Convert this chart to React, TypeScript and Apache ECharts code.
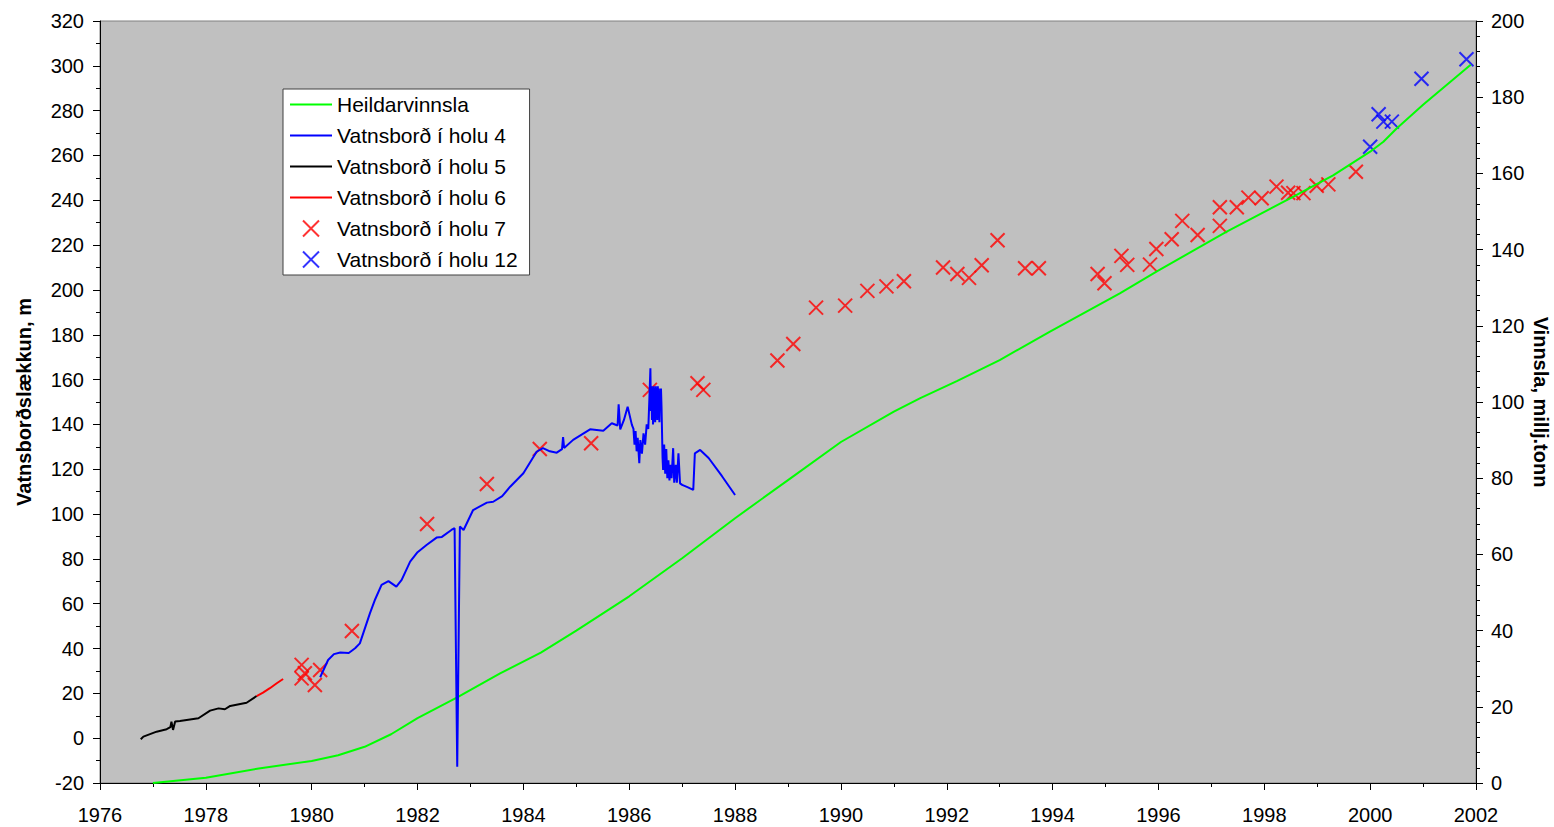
import React, { useEffect, useRef } from "react";
import * as echarts from "echarts";

// Heildarvinnsla (total production, millj. tonn) – right axis
const heildarvinnsla: [number, number][] = [
  [1977.0, 0], [1978.0, 1.4], [1979.0, 3.8], [1980.0, 5.8], [1980.5, 7.3],
  [1981.0, 9.5], [1981.5, 12.8], [1982.0, 17], [1982.75, 22.5], [1983.56, 28.8],
  [1984.33, 34.2], [1985.0, 40], [1986.0, 49], [1987.0, 59], [1988.0, 69.5],
  [1989.0, 79.5], [1990.0, 89.5], [1991.0, 97.5], [1991.5, 101], [1992.19, 105.5],
  [1993.0, 111], [1993.95, 118.5], [1995.27, 128.5], [1995.97, 134.3], [1997.29, 144.7],
  [1998.55, 153.9], [1999.3, 159.5], [2000.0, 165.7], [2000.25, 168.3],
  [2000.5, 171.8], [2001.0, 178], [2001.9, 188.5],
];

// Vatnsborð í holu 4
const holu4: [number, number][] = [
  [1980.16, 27.2], [1980.31, 34.9], [1980.42, 37.5], [1980.54, 38.2], [1980.7, 38],
  [1980.82, 40.1], [1980.91, 42.3], [1981.1, 55.7], [1981.2, 62], [1981.32, 68.4],
  [1981.45, 70.1], [1981.6, 67.6], [1981.7, 70.6], [1981.86, 78.8], [1982.0, 83],
  [1982.17, 86.2], [1982.36, 89.5], [1982.46, 89.8], [1982.64, 92.9], [1982.7, 93.7],
  [1982.75, -12.7], [1982.8, 94.4], [1982.87, 92.9], [1983.05, 101.8], [1983.31, 105.1],
  [1983.43, 105.5], [1983.6, 108], [1983.75, 112.2], [1984.0, 118.2], [1984.25, 127.8],
  [1984.37, 129.4], [1984.5, 128], [1984.63, 127.4], [1984.73, 129], [1984.75, 134.3],
  [1984.77, 129.5], [1984.94, 133.1], [1985.26, 137.8], [1985.51, 137.2], [1985.67, 140.5],
  [1985.78, 139.5], [1985.8, 149], [1985.83, 137.8], [1985.9, 142], [1985.97, 147.9],
  [1986.05, 139.8], [1986.08, 138], [1986.1, 131], [1986.12, 137], [1986.14, 128],
  [1986.16, 134], [1986.19, 122.7], [1986.21, 133], [1986.24, 127], [1986.27, 136],
  [1986.3, 131], [1986.33, 140], [1986.36, 138], [1986.38, 150.9], [1986.4, 165],
  [1986.41, 146], [1986.42, 157], [1986.43, 142], [1986.44, 156], [1986.45, 140],
  [1986.46, 157], [1986.47, 143], [1986.48, 156], [1986.49, 141], [1986.5, 157],
  [1986.51, 144], [1986.52, 156], [1986.53, 142], [1986.54, 157], [1986.55, 145],
  [1986.56, 156], [1986.57, 141], [1986.58, 155], [1986.59, 146], [1986.6, 156],
  [1986.61, 147.9], [1986.63, 125], [1986.64, 119.7], [1986.66, 131], [1986.68, 118],
  [1986.7, 129], [1986.72, 116], [1986.74, 124], [1986.76, 115], [1986.78, 122],
  [1986.8, 116], [1986.83, 129.4], [1986.85, 114], [1986.88, 122], [1986.9, 114],
  [1986.93, 127.1], [1986.96, 113.7], [1987.0, 113], [1987.1, 112], [1987.21, 110.8],
  [1987.24, 127.1], [1987.34, 128.6], [1987.5, 125], [1987.75, 117], [1988.0, 108.5],
];

// Vatnsborð í holu 5
const holu5: [number, number][] = [
  [1976.77, -0.5], [1976.82, 0.7], [1977.07, 2.9], [1977.26, 4], [1977.33, 4.9],
  [1977.35, 7.4], [1977.38, 3.7], [1977.42, 7.4], [1977.51, 7.7], [1977.86, 8.9],
  [1978.08, 12.3], [1978.24, 13.3], [1978.36, 12.9], [1978.46, 14.4], [1978.77, 15.8],
  [1978.96, 18.8],
];

// Vatnsborð í holu 6
const holu6: [number, number][] = [
  [1978.96, 18.8], [1979.08, 20.3], [1979.21, 22.3], [1979.34, 24.5], [1979.46, 26.4],
];

// Vatnsborð í holu 7 (single measurements)
const holu7: [number, number][] = [
  [1979.81, 32.7], [1979.81, 26.7], [1979.87, 29], [1980.06, 23.7], [1980.16, 30.4],
  [1980.76, 47.8], [1982.18, 95.6], [1983.31, 113.4], [1984.31, 129], [1985.28, 131.6],
  [1986.39, 155.4], [1987.29, 158.4], [1987.4, 155.4], [1988.8, 168.5], [1989.1, 175.9],
  [1989.53, 192.1], [1990.08, 193], [1990.5, 199.6], [1990.86, 201.6], [1991.19, 203.9],
  [1991.93, 210], [1992.2, 207.1], [1992.42, 205.4], [1992.66, 211], [1992.96, 222.2],
  [1993.48, 209.7], [1993.74, 209.7], [1994.85, 207.1], [1994.98, 203], [1995.3, 215.2],
  [1995.41, 211.2], [1995.84, 211.3], [1995.96, 218.3], [1996.25, 222.6], [1996.45, 230.8],
  [1996.74, 224.5], [1997.16, 228.6], [1997.16, 236.9], [1997.48, 236.9], [1997.7, 241.2],
  [1997.95, 240.9], [1998.23, 246.1], [1998.45, 243.4], [1998.55, 243.2], [1998.74, 243.2],
  [1998.99, 246.5], [1999.21, 247.1], [1999.73, 252.7],
];

// Vatnsborð í holu 12 (single measurements)
const holu12: [number, number][] = [
  [2000.0, 263.9], [2000.16, 278.4], [2000.25, 275.1], [2000.41, 275.1],
  [2000.97, 294.2], [2001.82, 302.9],
];

const FONT = 'Arial, "Liberation Sans", sans-serif';
const CROSS = "path://M0,0L10,10M10,0L0,10";
// Plain horizontal stroke for line entries in the legend (tiny end marks keep the 42x16 box)
const LINE_ICON = "path://M0,0L0.01,0L0.01,0.01Z M0,7L42,7L42,9L0,9Z M0,16L0.01,16L0.01,15.99Z";

export default function App() {
  const ref = useRef<HTMLDivElement>(null);

  useEffect(() => {
    if (!ref.current) return;
    const chart = echarts.init(ref.current, null, { renderer: "svg" });

    const axisCommon = {
      axisLine: { show: true, lineStyle: { color: "#000", width: 1 } },
      axisTick: { show: true, length: 7, lineStyle: { color: "#000" } },
      splitLine: { show: false },
      axisLabel: { color: "#000", fontSize: 20, fontFamily: FONT },
    };

    chart.setOption({
      animation: false,
      backgroundColor: "#fff",
      textStyle: { fontFamily: FONT },
      grid: {
        left: 100,
        right: 78,
        top: 21,
        bottom: 44,
        outerBoundsMode: "none",
        show: true,
        backgroundColor: "#c0c0c0",
        borderColor: "#808080",
        borderWidth: 1,
      },
      legend: {
        orient: "vertical",
        left: 283,
        top: 89,
        backgroundColor: "#fff",
        borderColor: "#404040",
        borderWidth: 1,
        borderRadius: 0,
        padding: [5, 12, 5, 7],
        itemWidth: 42,
        itemHeight: 16,
        itemGap: 10,
        textStyle: { fontSize: 21, color: "#000", fontFamily: FONT },
        data: [
          { name: "Heildarvinnsla", icon: LINE_ICON },
          { name: "Vatnsborð í holu 4", icon: LINE_ICON },
          { name: "Vatnsborð í holu 5", icon: LINE_ICON },
          { name: "Vatnsborð í holu 6", icon: LINE_ICON },
          { name: "Vatnsborð í holu 7" },
          { name: "Vatnsborð í holu 12" },
        ],
      },
      xAxis: {
        type: "value",
        min: 1976,
        max: 2002,
        interval: 2,
        minorTick: { show: true, splitNumber: 2, length: 4, lineStyle: { color: "#000" } },
        axisTick: { show: true, length: 7, lineStyle: { color: "#000" } },
        axisLine: { show: true, onZero: false, lineStyle: { color: "#000" } },
        splitLine: { show: false },
        axisLabel: {
          color: "#000",
          fontSize: 20,
          fontFamily: FONT,
          margin: 22,
          formatter: (v: number) => String(v),
        },
      },
      yAxis: [
        {
          ...axisCommon,
          type: "value",
          position: "left",
          min: -20,
          max: 320,
          interval: 20,
          minorTick: { show: true, splitNumber: 2, length: 4, lineStyle: { color: "#000" } },
          axisLabel: { ...axisCommon.axisLabel, margin: 16 },
          name: "Vatnsborðslækkun, m",
          nameLocation: "middle",
          nameRotate: 90,
          nameGap: 66,
          nameMoveOverlap: false,
          nameTextStyle: { fontSize: 20, fontWeight: "bold", color: "#000", fontFamily: FONT },
        },
        {
          ...axisCommon,
          type: "value",
          position: "right",
          min: 0,
          max: 200,
          interval: 20,
          minorTick: { show: true, splitNumber: 5, length: 4, lineStyle: { color: "#000" } },
          axisLabel: { ...axisCommon.axisLabel, margin: 15 },
          name: "Vinnsla, millj.tonn",
          nameLocation: "middle",
          nameRotate: -90,
          nameGap: 55,
          nameMoveOverlap: false,
          nameTextStyle: { fontSize: 20, fontWeight: "bold", color: "#000", fontFamily: FONT },
        },
      ],
      series: [
        {
          name: "Heildarvinnsla",
          type: "line",
          yAxisIndex: 1,
          data: heildarvinnsla,
          symbol: "none",
          lineStyle: { color: "#00ff00", width: 2 },
          itemStyle: { color: "#00ff00" },
        },
        {
          name: "Vatnsborð í holu 4",
          type: "line",
          data: holu4,
          symbol: "none",
          lineStyle: { color: "#0000ff", width: 2 },
          itemStyle: { color: "#0000ff" },
        },
        {
          name: "Vatnsborð í holu 5",
          type: "line",
          data: holu5,
          symbol: "none",
          lineStyle: { color: "#000000", width: 2 },
          itemStyle: { color: "#000000" },
        },
        {
          name: "Vatnsborð í holu 6",
          type: "line",
          data: holu6,
          symbol: "none",
          lineStyle: { color: "#ff0000", width: 2 },
          itemStyle: { color: "#ff0000" },
        },
        {
          name: "Vatnsborð í holu 7",
          type: "scatter",
          data: holu7,
          symbol: CROSS,
          symbolSize: 14,
          itemStyle: { color: "transparent", borderColor: "#ff0000", borderWidth: 2 },
        },
        {
          name: "Vatnsborð í holu 12",
          type: "scatter",
          data: holu12,
          symbol: CROSS,
          symbolSize: 14,
          itemStyle: { color: "transparent", borderColor: "#0000ff", borderWidth: 2 },
        },
      ],
    });

    return () => chart.dispose();
  }, []);

  return (
    <div
      ref={ref}
      style={{ position: "fixed", left: 0, top: 0, width: 1554, height: 827, background: "#fff" }}
    />
  );
}
